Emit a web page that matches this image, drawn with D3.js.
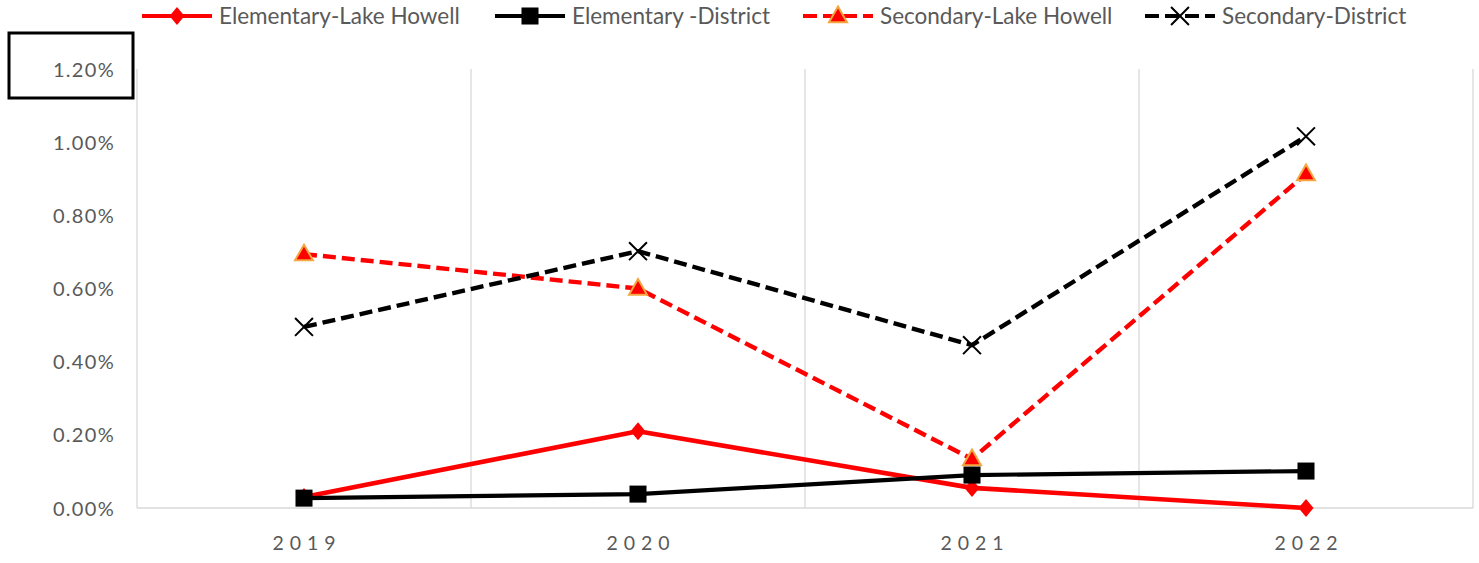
<!DOCTYPE html>
<html><head><meta charset="utf-8">
<script src="https://cdn.jsdelivr.net/npm/d3@7"></script>
<style>body{margin:0;background:#fff}svg{display:block}</style>
</head><body>
<svg id="c" width="1479" height="563"></svg>
<script>
const categories = ["2019","2020","2021","2022"];
const elemLH   = [0.00030, 0.00210, 0.00055, 0.00000];
const elemDist = [0.00027, 0.00038, 0.00090, 0.00101];
const secLH    = [0.00694, 0.00600, 0.00134, 0.00913];
const secDist  = [0.00495, 0.00702, 0.00445, 0.01016];
const yTicks   = [0, 0.002, 0.004, 0.006, 0.008, 0.010, 0.012];
const seriesNames = ["Elementary-Lake Howell","Elementary -District","Secondary-Lake Howell","Secondary-District"];

const series = [
  {name: seriesNames[0], values: elemLH,   color:"#ff0000", dash:null,   marker:"diamond", w:4.6},
  {name: seriesNames[1], values: elemDist, color:"#000000", dash:null,   marker:"square",  w:4.2},
  {name: seriesNames[2], values: secLH,    color:"#ff0000", dash:"13,6", marker:"triangle", w:4.4},
  {name: seriesNames[3], values: secDist,  color:"#000000", dash:"13,6", marker:"x", w:4.4}
];

const svg = d3.select("#c");
const L = 137, R = 1473, T = 69, B = 508;
const x = d3.scaleBand().domain(categories).range([L, R]).padding(0);
const y = d3.scaleLinear().domain([0, 0.012]).range([B, T]);
const font = "Lato, 'Open Sans', sans-serif";

// vertical gridlines at category boundaries
const bounds = categories.map(c => x(c)).concat([R]);
svg.append("g").selectAll("line").data(bounds).join("line")
  .attr("x1", d => d).attr("x2", d => d).attr("y1", T).attr("y2", B)
  .attr("stroke", "#d9d9d9").attr("stroke-width", 1.3);
// baseline
svg.append("line").attr("x1", L).attr("x2", R).attr("y1", y(0)).attr("y2", y(0))
  .attr("stroke", "#d9d9d9").attr("stroke-width", 1.5);

// y axis labels
const yAxis = d3.axisLeft(y).tickValues(yTicks).tickSize(0).tickPadding(0)
  .tickFormat(d3.format(".2%"));
const ga = svg.append("g").attr("transform", `translate(115,0)`).call(yAxis);
ga.select(".domain").remove();
ga.selectAll("text").attr("fill", "#595959").style("font-family", font).style("font-size", "20px")
  .style("letter-spacing", "1.3px").attr("dy", "0.35em");

// x axis labels
const xAxis = d3.axisBottom(x).tickSize(0).tickPadding(0);
const gx = svg.append("g").attr("transform", `translate(0,536)`).call(xAxis);
gx.select(".domain").remove();
gx.selectAll("text").attr("fill", "#595959").style("font-family", font).style("font-size", "19.5px")
  .style("letter-spacing", "6px").attr("dy", "0.71em").attr("dx", "3px");

// box artifact
svg.append("rect").attr("x", 9).attr("y", 33).attr("width", 124).attr("height", 65)
  .attr("fill", "none").attr("stroke", "#000").attr("stroke-width", 3);

const line = d3.line().x((d, i) => x(categories[i]) + x.bandwidth() / 2).y(d => y(d));

function drawMarker(g, type, cx, cy) {
  if (type === "diamond") {
    g.append("path").attr("d", "M0,-9L7.5,0L0,9L-7.5,0Z")
      .attr("transform", `translate(${cx},${cy})`)
      .attr("fill", "#ff0000");
  } else if (type === "square") {
    g.append("path").attr("d", d3.symbol(d3.symbolSquare, 290)())
      .attr("transform", `translate(${cx},${cy})`).attr("fill", "#000");
  } else if (type === "triangle") {
    g.append("path").attr("d", d3.symbol(d3.symbolTriangle, 140)())
      .attr("transform", `translate(${cx},${cy + 1})`)
      .attr("fill", "#ff0000").attr("stroke", "#f4a640").attr("stroke-width", 2);
  } else if (type === "x") {
    g.append("path").attr("d", d3.symbol(d3.symbolTimes, 210)())
      .attr("transform", `translate(${cx},${cy})`)
      .attr("fill", "none").attr("stroke", "#000").attr("stroke-width", 2);
  }
}

const order = [2, 3, 0, 1];
order.forEach(k => {
  const s = series[k];
  const g = svg.append("g");
  g.append("path").attr("d", line(s.values)).attr("fill", "none")
    .attr("stroke", s.color).attr("stroke-width", s.w)
    .attr("stroke-dasharray", s.dash).attr("stroke-linejoin", "round");
  s.values.forEach((v, i) => drawMarker(g, s.marker, x(categories[i]) + x.bandwidth() / 2, y(v)));
});

// legend
const legX = [142, 495, 803, 1145];
const legW = 70;
const lg = svg.append("g");
series.forEach((s, i) => {
  const g = lg.append("g");
  const ly = 16;
  g.append("line").attr("x1", legX[i]).attr("x2", legX[i] + legW).attr("y1", ly).attr("y2", ly)
    .attr("stroke", s.color).attr("stroke-width", 4.2).attr("stroke-dasharray", s.dash ? "14,6" : null);
  drawMarker(g, s.marker, legX[i] + legW / 2, ly);
  g.append("text").attr("x", legX[i] + legW + 7).attr("y", ly).attr("dy", "0.35em")
    .attr("fill", "#595959").style("font-family", font).style("font-size", "22.5px").text(s.name);
});
</script>
</body></html>
